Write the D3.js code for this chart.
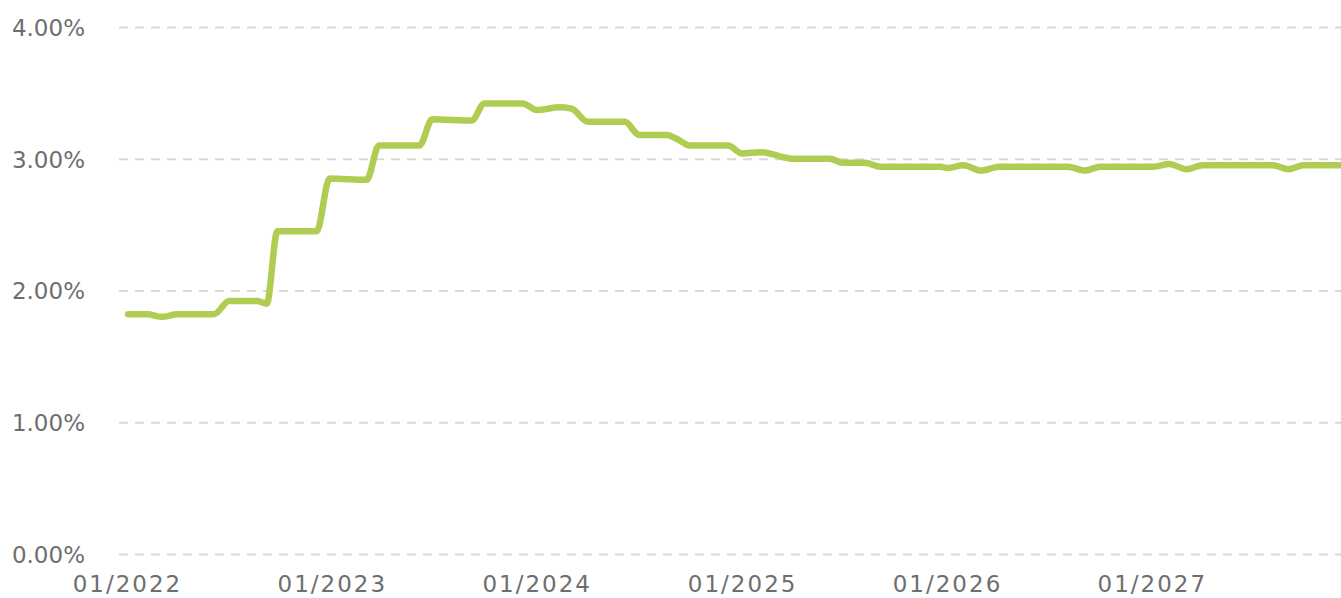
<!DOCTYPE html>
<html>
<head>
<meta charset="utf-8">
<script src="https://cdnjs.cloudflare.com/ajax/libs/d3/7.8.5/d3.min.js"></script>
<style>
  body { margin: 0; background: #fff; }
  text { font-family: "DejaVu Sans", Verdana, sans-serif; fill: #6e6e6e; }
</style>
</head>
<body>
<script>
// data (dates where the curve bends)
var dates = [
  "2022-01-03", "2022-02-06", "2022-03-04", "2022-04-01", "2022-06-05", "2022-07-02",
  "2022-08-21", "2022-09-07", "2022-09-26", "2022-12-05", "2022-12-28", "2023-03-04",
  "2023-03-26", "2023-06-06", "2023-06-29", "2023-09-07", "2023-09-30", "2023-12-07",
  "2024-01-01", "2024-02-11", "2024-03-03", "2024-04-01", "2024-06-06", "2024-07-02",
  "2024-08-20", "2024-09-07", "2024-09-30", "2024-12-07", "2025-01-01", "2025-02-03",
  "2025-04-01", "2025-06-06", "2025-06-29", "2025-08-08", "2025-09-04", "2025-12-20",
  "2026-01-03", "2026-01-30", "2026-03-03", "2026-04-04", "2026-08-04", "2026-09-04",
  "2026-10-01", "2027-01-04", "2027-02-01", "2027-03-04", "2027-04-01", "2027-08-05",
  "2027-09-01", "2027-09-28", "2027-12-04"
];
var rates = [
  1.82, 1.82, 1.80, 1.82, 1.82, 1.92,
  1.92, 1.90, 2.45, 2.45, 2.85, 2.84,
  3.10, 3.10, 3.30, 3.29, 3.42, 3.42,
  3.37, 3.39, 3.38, 3.28, 3.28, 3.18,
  3.18, 3.15, 3.10, 3.10, 3.04, 3.05,
  3.00, 3.00, 2.97, 2.97, 2.94, 2.94,
  2.93, 2.95, 2.91, 2.94, 2.94, 2.91,
  2.94, 2.94, 2.96, 2.92, 2.95, 2.95,
  2.92, 2.95, 2.95
];
var yTicks = [0, 1, 2, 3, 4];
var xTicks = ["2022-01-01", "2023-01-01", "2024-01-01", "2025-01-01", "2026-01-01", "2027-01-01"];

var width = 1341,
    height = 598;

var parse = d3.timeParse("%Y-%m-%d");

var data = dates.map(function(d, i) {
  return {date: parse(d), value: rates[i]};
});

// scales
var x = d3.scaleTime()
    .domain([parse("2021-12-16"), parse("2027-12-04")])
    .range([118, 1341]);

var y = d3.scaleLinear()
    .domain([0, 4])
    .range([554, 27]);

var svg = d3.select("body").append("svg")
    .attr("width", width)
    .attr("height", height);

// dashed grid lines + y labels
var yAxis = d3.axisLeft(y)
    .tickValues(yTicks)
    .tickSize(-(1341 - 119))
    .tickPadding(34)
    .tickFormat(function(d) { return d3.format(".2f")(d) + "%"; });

var gy = svg.append("g")
    .attr("transform", "translate(119,0)")
    .call(yAxis);

gy.select(".domain").remove();
gy.selectAll(".tick line")
    .attr("stroke", "#d9d9d9")
    .attr("stroke-width", 2)
    .attr("stroke-dasharray", "9,7");
gy.selectAll(".tick text")
    .attr("font-size", 23)
    .attr("dy", "0.36em")
    .style("fill", "#6e6e6e");

// x labels
var xAxis = d3.axisBottom(x)
    .tickValues(xTicks.map(parse))
    .tickSize(0)
    .tickPadding(0)
    .tickFormat(d3.timeFormat("%m/%Y"));

var gx = svg.append("g")
    .attr("transform", "translate(0,575)")
    .call(xAxis);

gx.select(".domain").remove();
gx.selectAll(".tick text")
    .attr("font-size", 23)
    .attr("dy", "0.74em")
    .attr("letter-spacing", 2)
    .style("fill", "#6e6e6e");

// the rate line
var line = d3.line()
    .x(function(d) { return x(d.date); })
    .y(function(d) { return y(d.value); })
    .curve(d3.curveMonotoneX);

svg.append("path")
    .datum(data)
    .attr("d", line)
    .attr("fill", "none")
    .attr("stroke", "#b1cc52")
    .attr("stroke-width", 6.5)
    .attr("stroke-linejoin", "round")
    .attr("stroke-linecap", "round");
</script>
</body>
</html>
